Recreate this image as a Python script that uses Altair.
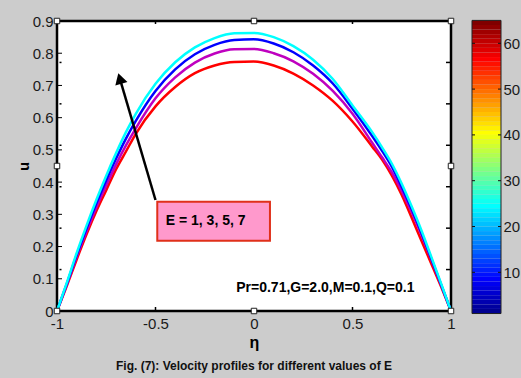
import altair as alt
import pandas as pd

# ---------------- data ----------------
eta = [-1, -0.95, -0.9, -0.85, -0.8, -0.75, -0.7, -0.65, -0.6, -0.5, -0.4, -0.3,
       -0.2, -0.1, 0, 0.1, 0.2, 0.3, 0.4, 0.5, 0.6, 0.65, 0.7, 0.75, 0.8, 0.85,
       0.9, 0.95, 1]
u_E1 = [0, 0.078, 0.16, 0.238, 0.31, 0.375, 0.44, 0.495, 0.55, 0.635, 0.695, 0.738,
        0.762, 0.773, 0.774, 0.762, 0.737, 0.70, 0.652, 0.588, 0.51, 0.47, 0.42, 0.36,
        0.29, 0.218, 0.147, 0.075, 0]
u_E3 = [0, 0.082, 0.168, 0.247, 0.322, 0.39, 0.455, 0.514, 0.567, 0.66, 0.725, 0.771,
        0.799, 0.812, 0.813, 0.80, 0.775, 0.736, 0.683, 0.612, 0.522, 0.477, 0.43, 0.372,
        0.307, 0.236, 0.159, 0.08, 0]
u_E5 = [0, 0.085, 0.174, 0.256, 0.334, 0.406, 0.473, 0.535, 0.59, 0.683, 0.75, 0.797,
        0.826, 0.841, 0.843, 0.83, 0.803, 0.762, 0.706, 0.628, 0.543, 0.497, 0.447, 0.385,
        0.317, 0.243, 0.163, 0.082, 0]
u_E7 = [0, 0.088, 0.18, 0.265, 0.345, 0.42, 0.49, 0.555, 0.612, 0.705, 0.772, 0.818,
        0.847, 0.862, 0.863, 0.85, 0.822, 0.78, 0.72, 0.638, 0.555, 0.508, 0.457, 0.395,
        0.325, 0.25, 0.168, 0.085, 0]

series_labels = ["E = 1", "E = 3", "E = 5", "E = 7"]
series_colors = ["#ff0000", "#bf00bf", "#0000ff", "#00ffff"]

x_ticks = [-1, -0.5, 0, 0.5, 1]
y_ticks = [0, 0.1, 0.2, 0.3, 0.4, 0.5, 0.6, 0.7, 0.8, 0.9]
inner_x_ticks = [-0.5, 0.5]
seventh_ticks = [0.1286, 0.2571, 0.3857, 0.5143, 0.6429, 0.7714]

cbar_levels = list(range(1, 65))
cbar_ticks = [10, 20, 30, 40, 50, 60]
cbar_bounds = [1, 65]
jet_stops = [1, 8, 16, 24, 32, 40, 48, 56, 64]
jet_colors = ["#000090", "#0000ff", "#0080ff", "#00ffff", "#80ff80",
              "#ffff00", "#ff8000", "#ff0000", "#800000"]

handle_eta = [-1, 0, 1, -1, 1, -1, 0, 1]
handle_u = [0.9, 0.9, 0.9, 0.45, 0.45, 0, 0, 0]

params_text = "Pr=0.71,G=2.0,M=0.1,Q=0.1"
box_text = "E = 1, 3, 5, 7"
caption = "Fig. (7): Velocity profiles for different values of E"

# annotation anchors (data coordinates)
box_x = [-0.491, 0.081]
box_y = [0.218, 0.339]
box_label_pos = [-0.448, 0.280]
params_pos = [0.362, 0.070]
arrow_start = [-0.5, 0.3445]
arrow_head = [-0.681, 0.7213]

FONT = "Liberation Sans"
W, H = 394, 290

# ---------------- frames ----------------
rows = []
for lab, vals in zip(series_labels, [u_E1, u_E3, u_E5, u_E7]):
    for e, u in zip(eta, vals):
        rows.append({"eta": e, "u": u, "E": lab})
df = pd.DataFrame(rows)

xs = alt.Scale(domain=[-1, 1], nice=False, zero=False)
ys = alt.Scale(domain=[0, 0.9], nice=False, zero=False)
cs = alt.Scale(domain=[1.55, 64.87], nice=False, zero=False)

x_axis = alt.Axis(
    values=x_ticks, labelExpr="toString(datum.value)", title="η",
    titleFont=FONT, titleFontSize=16, titleFontWeight="bold", titleColor="black",
    labelFont=FONT, labelFontSize=15, labelColor="#1a1a1a",
    ticks=False, domain=False, grid=False,
    labelPadding=5, titlePadding=3, labelFlush=False, labelOverlap=False)
y_axis = alt.Axis(
    values=y_ticks, labelExpr="toString(datum.value)", title="u",
    titleFont=FONT, titleFontSize=15, titleFontWeight="bold", titleColor="black",
    labelFont=FONT, labelFontSize=15, labelColor="#1a1a1a",
    ticks=False, domain=False, grid=False,
    labelPadding=4, titlePadding=1, labelFlush=False, labelOverlap=False)
c_axis = alt.Axis(
    orient="right", offset=50, values=cbar_ticks, title=None,
    labelFont=FONT, labelFontSize=15, labelColor="#1a1a1a",
    ticks=False, domain=False, grid=False, labelPadding=2,
    labelFlush=False, labelOverlap=False)

X = lambda f: alt.X(f, scale=xs, axis=x_axis)
Y = lambda f: alt.Y(f, scale=ys, axis=None)

lines = alt.Chart(df).mark_line(strokeWidth=2.5, interpolate="monotone").encode(
    x=alt.X("eta:Q", scale=xs, axis=x_axis),
    y=alt.Y("u:Q", scale=ys, axis=y_axis),
    color=alt.Color("E:N", scale=alt.Scale(domain=series_labels, range=series_colors),
                    legend=None),
)

box = alt.Chart(pd.DataFrame({"eta": [box_x[0]], "x2": [box_x[1]],
                              "y": [box_y[0]], "y2": [box_y[1]]})).mark_rect(
    fill="#ff99cc", stroke="#e0301a", strokeWidth=2).encode(
    x=X("eta:Q"), x2="x2:Q", y=Y("y:Q"), y2="y2:Q")

box_label = alt.Chart(pd.DataFrame({"eta": [box_label_pos[0]], "y": [box_label_pos[1]],
                                    "t": [box_text]})).mark_text(
    font=FONT, fontSize=14, fontWeight="bold", align="left", baseline="middle",
    color="black").encode(x=X("eta:Q"), y=Y("y:Q"), text="t:N")

params = alt.Chart(pd.DataFrame({"eta": [params_pos[0]], "y": [params_pos[1]],
                                 "t": [params_text]})).mark_text(
    font=FONT, fontSize=14, fontWeight="bold", align="center", baseline="middle",
    color="black").encode(x=X("eta:Q"), y=Y("y:Q"), text="t:N")

shaft = alt.Chart(pd.DataFrame({"eta": [arrow_start[0]], "y": [arrow_start[1]],
                                "x2": [arrow_head[0]], "y2": [arrow_head[1]]})).mark_rule(
    color="black", strokeWidth=2.5).encode(x=X("eta:Q"), y=Y("y:Q"), x2="x2:Q", y2="y2:Q")

head = alt.Chart(pd.DataFrame({"eta": [arrow_head[0]], "y": [arrow_head[1]]})).mark_point(
    shape="triangle-up", size=160, filled=True, color="black", opacity=1,
    angle=343.6).encode(x=X("eta:Q"), y=Y("y:Q"))

left_ticks = alt.Chart(pd.DataFrame({"y": y_ticks})).mark_rule(
    color="black", strokeWidth=1).encode(y=Y("y:Q"), x=alt.value(0), x2=alt.value(5))
left_dots = alt.Chart(pd.DataFrame({"y": seventh_ticks})).mark_rule(
    color="black", strokeWidth=1.5).encode(y=Y("y:Q"), x=alt.value(2.5), x2=alt.value(4.5))
right_ticks = alt.Chart(pd.DataFrame({"y": seventh_ticks})).mark_rule(
    color="black", strokeWidth=1.5).encode(y=Y("y:Q"), x=alt.value(W - 5), x2=alt.value(W))
top_ticks = alt.Chart(pd.DataFrame({"eta": inner_x_ticks})).mark_rule(
    color="black", strokeWidth=1.5).encode(x=X("eta:Q"), y=alt.value(0), y2=alt.value(3))
bottom_ticks = alt.Chart(pd.DataFrame({"eta": inner_x_ticks})).mark_rule(
    color="black", strokeWidth=1.5).encode(x=X("eta:Q"), y=alt.value(H - 4), y2=alt.value(H))

handles = alt.Chart(pd.DataFrame({"eta": handle_eta, "y": handle_u})).mark_square(
    size=30, fill="white", stroke="#222222", strokeWidth=1, opacity=1).encode(
    x=X("eta:Q"), y=Y("y:Q"))

cap = alt.Chart(pd.DataFrame({"t": [caption]})).mark_text(
    font=FONT, fontSize=12, fontWeight="bold", align="center", baseline="middle",
    color="#111111").encode(x=alt.value(W / 2), y=alt.value(345), text="t:N")

# ---------------- colour bar (pixel-placed, own y scale) ----------------
cbar_rects = alt.Chart(pd.DataFrame({"v": cbar_levels})).transform_calculate(
    v2="datum.v + 1").mark_rect(strokeWidth=0).encode(
    x=alt.value(415), x2=alt.value(444),
    y=alt.Y("v:Q", scale=cs, axis=c_axis),
    y2="v2:Q",
    color=alt.Color("v:Q", scale=alt.Scale(domain=jet_stops, range=jet_colors,
                                           interpolate="rgb"), legend=None))
cbar_frame = alt.Chart(pd.DataFrame({"a": [cbar_bounds[0]], "b": [cbar_bounds[1]]})).mark_rect(
    fill=None, fillOpacity=0, stroke="#222222", strokeWidth=1).encode(
    x=alt.value(415), x2=alt.value(444),
    y=alt.Y("a:Q", scale=cs, axis=None), y2="b:Q")
cbar_tl = alt.Chart(pd.DataFrame({"t": cbar_ticks})).mark_rule(
    color="#111111", strokeWidth=1).encode(
    y=alt.Y("t:Q", scale=cs, axis=None), x=alt.value(415), x2=alt.value(418))
cbar_tr = alt.Chart(pd.DataFrame({"t": cbar_ticks})).mark_rule(
    color="#111111", strokeWidth=1).encode(
    y=alt.Y("t:Q", scale=cs, axis=None), x=alt.value(441), x2=alt.value(444))

chart = alt.layer(
    lines, shaft, head, box, box_label, params, left_ticks, left_dots,
    right_ticks, top_ticks, bottom_ticks, handles, cap,
    cbar_rects, cbar_frame, cbar_tl, cbar_tr
).resolve_scale(
    y="independent", color="independent"
).properties(
    width=W, height=H,
    autosize=alt.AutoSizeParams(type="none"),
    padding={"left": 57, "top": 21, "right": 70, "bottom": 67},
    background="#cccccc",
).configure_view(fill="white", stroke="black", strokeWidth=2.5)

chart.save("out.html", embed_options={"renderer": "svg", "actions": False})
